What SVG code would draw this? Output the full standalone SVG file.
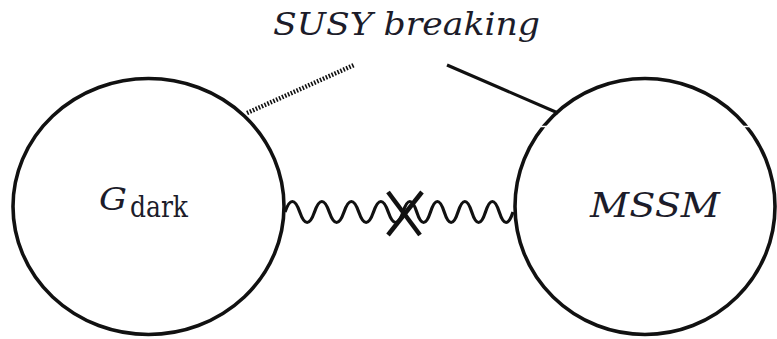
<svg xmlns="http://www.w3.org/2000/svg" width="777" height="339" viewBox="0 0 777 339">
<style>
.c{fill:none;stroke:#111;stroke-width:3.6}
.t{font-family:'DejaVu Serif','Liberation Serif',serif;fill:#1c1c2a}
.i{font-style:italic}
.w{fill:none;stroke:#111;stroke-width:3.2;stroke-linejoin:round}
</style>
<rect width="777" height="339" fill="#fff"/>
<g id="connectors">
<line x1="247" y1="113" x2="354" y2="65" stroke="#111" stroke-width="4.5" stroke-dasharray="1.6 1.6"/>
<line x1="447" y1="65" x2="558" y2="113" stroke="#111" stroke-width="3.2"/>
<path class="w" d="M285,212 q7.375,-21 14.75,0 t14.75,0 t14.75,0 t14.75,0 t14.75,0 t14.75,0 t14.75,0 t14.75,0 q6.875,-21 13.75,0 t13.75,0 t13.75,0 t13.75,0 t13.75,0 t13.75,0 t13.75,0 t13.75,0"/>
<g id="cross" stroke="#111" stroke-width="4.5">
<line x1="388" y1="192" x2="420" y2="235"/>
<line x1="422" y1="192" x2="388" y2="235"/>
</g>
</g>
<g id="gdark">
<ellipse class="c" cx="148.5" cy="206.5" rx="135.5" ry="128"/>
<text class="t i" x="99" y="210" font-size="32" textLength="28" lengthAdjust="spacingAndGlyphs">G</text>
<text class="t" x="130" y="217" font-size="29" textLength="58" lengthAdjust="spacingAndGlyphs">dark</text>
</g>
<g id="mssm">
<ellipse class="c" cx="645" cy="206.5" rx="130" ry="128"/>
<line x1="530" y1="126.5" x2="770" y2="126.5" stroke="#fff" stroke-width="1.5"/>
<text class="t i" x="590" y="217" font-size="33" textLength="130" lengthAdjust="spacingAndGlyphs">MSSM</text>
</g>
<g id="susy">
<text class="t i" x="273" y="35" font-size="32" textLength="267" lengthAdjust="spacingAndGlyphs">SUSY breaking</text>
</g>
</svg>
